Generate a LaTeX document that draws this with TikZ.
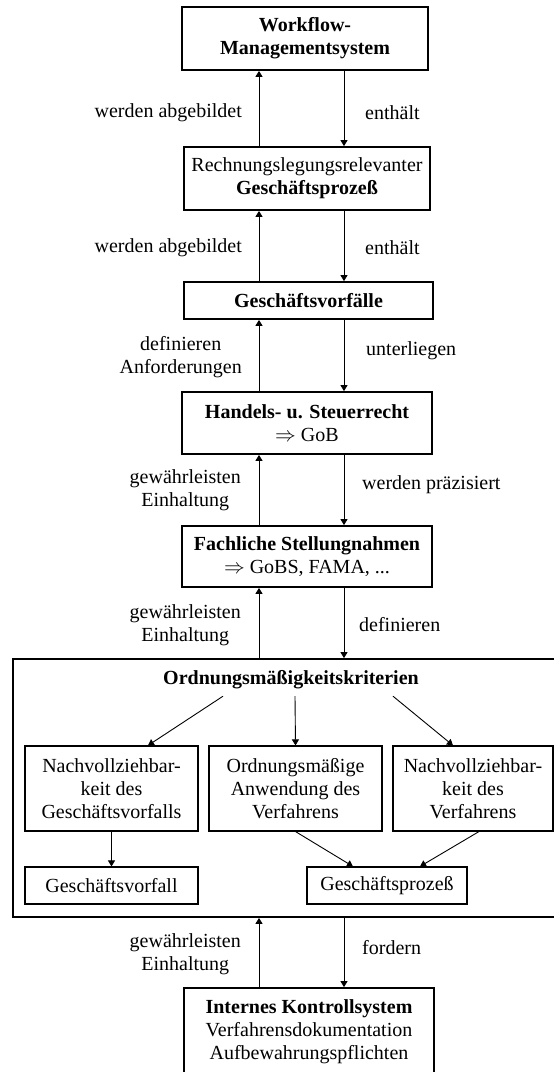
\documentclass[tikz,border=0pt]{standalone}
\usepackage{fontspec}
\setmainfont{Liberation Serif}
\usetikzlibrary{arrows.meta,calc}

\tikzset{
  x=1pt, y=-1pt,
  every node/.style={font=\fontsize{20pt}{23pt}\selectfont},
  mainbox/.style={draw, line width=1.8pt, inner sep=0pt, align=center},
  subbox/.style={draw, line width=1.1pt, inner sep=0pt, align=center},
  lbl/.style={inner sep=0pt, align=center},
  arr/.style={line width=0.9pt, -{Triangle[length=6pt,width=7pt]}},
}

\begin{document}
\begin{tikzpicture}
\useasboundingbox (0,0) rectangle (554,1072);
\clip (0,0) rectangle (554,1072);

% columns of the vertical connectors
\coordinate (L) at (259,0);
\coordinate (R) at (344,0);

% main chain
\node[mainbox, minimum width=246pt, minimum height=63pt] (wf) at (305,38.5)
  {\textbf{Workflow-}\\\textbf{Managementsystem}};
\node[mainbox, minimum width=246pt, minimum height=63pt] (rg) at (307,178.5)
  {Rechnungslegungsrelevanter\\\textbf{Geschäftsprozeß}};
\node[mainbox, minimum width=249pt, minimum height=37pt] (gv) at (308.5,300.5)
  {\textbf{Geschäftsvorfälle}};
\node[mainbox, minimum width=250pt, minimum height=62pt] (hs) at (307,423)
  {\textbf{Handels- u. Steuerrecht}\\$\Rightarrow$ GoB};
\node[mainbox, minimum width=250pt, minimum height=61pt] (fs) at (307,556.5)
  {\textbf{Fachliche Stellungnahmen}\\$\Rightarrow$ GoBS, FAMA, ...};

% criteria frame
\node[mainbox, minimum width=550pt, minimum height=258pt] (ok) at (288,788) {};
\node[lbl, text height=14pt, text depth=4pt] (title) at (291,679)
  {\textbf{Ordnungsmäßigkeitskriterien}};
\node[subbox, minimum width=173pt, minimum height=85pt] (na) at (111.5,788.5)
  {Nachvollziehbar-\\keit des\\Geschäftsvorfalls};
\node[subbox, minimum width=173pt, minimum height=85pt] (oa) at (295.5,788.5)
  {Ordnungsmäßige\\Anwendung des\\Verfahrens};
\node[subbox, minimum width=160pt, minimum height=85pt] (nv) at (473,788.5)
  {Nachvollziehbar-\\keit des\\Verfahrens};
\node[subbox, minimum width=173pt, minimum height=37pt] (gvf) at (111.5,885.5)
  {Geschäftsvorfall};
\node[subbox, minimum width=160pt, minimum height=37pt] (gpz) at (387,885.5)
  {Geschäftsprozeß};

% internal control system
\node[mainbox, minimum width=250pt, minimum height=88pt] (iks) at (309,1032)
  {\textbf{Internes Kontrollsystem}\\Verfahrensdokumentation\\Aufbewahrungspflichten};

% connectors between the main boxes
\draw[arr] (rg.north -| L) -- (wf.south -| L);
\draw[arr] (wf.south -| R) -- (rg.north -| R);
\draw[arr] (gv.north -| L) -- (rg.south -| L);
\draw[arr] (rg.south -| R) -- (gv.north -| R);
\draw[arr] (hs.north -| L) -- (gv.south -| L);
\draw[arr] (gv.south -| R) -- (hs.north -| R);
\draw[arr] (fs.north -| L) -- (hs.south -| L);
\draw[arr] (hs.south -| R) -- (fs.north -| R);
\draw[arr] (ok.north -| L) -- (fs.south -| L);
\draw[arr] (fs.south -| R) -- (ok.north -| R);
\draw[arr] (iks.north -| L) -- (ok.south -| L);
\draw[arr] (ok.south -| R) -- (iks.north -| R);

% connectors inside the criteria frame
\draw[arr] ([xshift=-68pt,yshift=-8pt]title.south) -- ([xshift=36.5pt]na.north);
\draw[arr] ([xshift=4pt,yshift=-8pt]title.south) -- (oa.north);
\draw[arr] ([xshift=102pt,yshift=-8pt]title.south) -- ([xshift=-20pt]nv.north);
\draw[arr] (na.south) -- (gvf.north);
\draw[arr] (oa.south) -- ([xshift=-34pt]gpz.north);
\draw[arr] ([xshift=6pt]nv.south) -- ([xshift=33pt]gpz.north);

% connector labels
\node[lbl, anchor=east] (l1) at (242,113) {werden abgebildet};
\node[lbl, anchor=west] (r1) at (365,113) {enthält};
\node[lbl, anchor=east] (l2) at (242,248) {werden abgebildet};
\node[lbl, anchor=west] (r2) at (365,248) {enthält};
\node[lbl, anchor=east] (l3) at (242,357) {definieren\\Anforderungen};
\node[lbl, anchor=west] (r3) at (366,351) {unterliegen};
\node[lbl, anchor=east] (l4) at (241,490.5) {gewährleisten\\Einhaltung};
\node[lbl, anchor=west] (r4) at (362,485) {werden präzisiert};
\node[lbl, anchor=east] (l5) at (241,625.5) {gewährleisten\\Einhaltung};
\node[lbl, anchor=west] (r5) at (359,625) {definieren};
\node[lbl, anchor=east] (l6) at (241,954.5) {gewährleisten\\Einhaltung};
\node[lbl, anchor=west] (r6) at (362,948) {fordern};
\end{tikzpicture}
\end{document}
